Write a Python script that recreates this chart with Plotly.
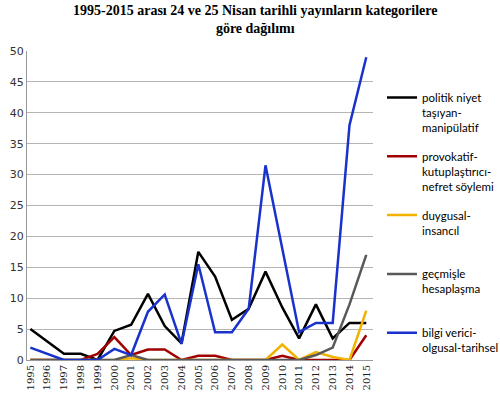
import plotly.graph_objects as go

years = [str(y) for y in range(1995, 2016)]

politik = [5, 3, 1, 1, 0, 4.7, 5.7, 10.7, 5.5, 2.7, 17.5, 13.5, 6.5, 8.3, 14.3, 8.5, 3.5, 9, 3.5, 6, 6]
provokatif = [0, 0, 0, 0, 1, 3.7, 0.8, 1.7, 1.7, 0, 0.7, 0.7, 0, 0, 0, 0.7, 0, 0, 0, 0, 4]
duygusal = [0, 0, 0, 0, 0, 0, 0.3, 0, 0, 0, 0, 0, 0, 0, 0, 2.5, 0, 1.3, 0.5, 0, 8]
gecmisle = [0, 0, 0, 0, 0, 0, 0.8, 0, 0, 0, 0, 0, 0, 0, 0, 0, 0, 0.8, 2, 9, 17]
bilgi = [2, 1, 0, 0, 0, 1.8, 0.8, 7.8, 10.6, 2.6, 15.5, 4.5, 4.5, 8.3, 31.5, 18, 4.5, 6, 6, 38, 49]

names = [
    "politik niyet<br>taşıyan-<br>manipülatif",
    "provokatif-<br>kutuplaştırıcı-<br>nefret söylemi",
    "duygusal-<br>insancıl<br> ",
    "geçmişle<br>hesaplaşma<br> ",
    "bilgi verici-<br>olgusal-tarihsel<br> ",
]
series = [politik, provokatif, duygusal, gecmisle, bilgi]
colors = ["#000000", "#a00000", "#f2b200", "#595959", "#1a32cc"]
title_text = "1995-2015 arası 24 ve 25 Nisan tarihli yayınların kategorilere<br>göre dağılımı"

fig = go.Figure()
for i, (nm, vals, c) in enumerate(zip(names, series, colors)):
    fig.add_trace(go.Scatter(
        x=years, y=vals, mode="lines", name=nm,
        line=dict(color=c, width=2.5),
        legendgroup=str(i),
    ))

fig.add_annotation(
    text=title_text, xref="paper", yref="paper", x=0.66, y=1.0, yshift=50,
    xanchor="center", yanchor="top", showarrow=False, align="center",
    font=dict(family="Liberation Serif", size=14, color="#000000", weight="bold"),
)

fig.update_layout(
    width=500, height=396,
    margin=dict(l=27, r=127, t=51, b=36, autoexpand=False),
    paper_bgcolor="white", plot_bgcolor="white",
    showlegend=True,
    legend=dict(
        x=1.026, xanchor="left", y=0.895, yanchor="top",
        tracegroupgap=11, valign="top",
        font=dict(family="Lato", size=11.5, color="#000000"),
        itemwidth=30,
    ),
    font=dict(family="DejaVu Sans", size=11, color="#333333"),
)
fig.update_xaxes(
    type="category", tickangle=-90, range=[-0.2, 20.4],
    showgrid=False, showline=True, linecolor="#999999",
    tickfont=dict(family="DejaVu Serif", size=10, color="#222222"),
    ticks="", ticklen=0, automargin=False,
)
fig.update_yaxes(
    range=[0, 50], dtick=5, showgrid=True, gridcolor="#b5b5b5", gridwidth=1,
    showline=True, linecolor="#999999", zeroline=False,
    tickfont=dict(family="DejaVu Sans", size=11, color="#333333"),
    automargin=False,
)

fig.write_html("out.html", config={"displayModeBar": False},
               post_script="document.body.style.margin='0';")
